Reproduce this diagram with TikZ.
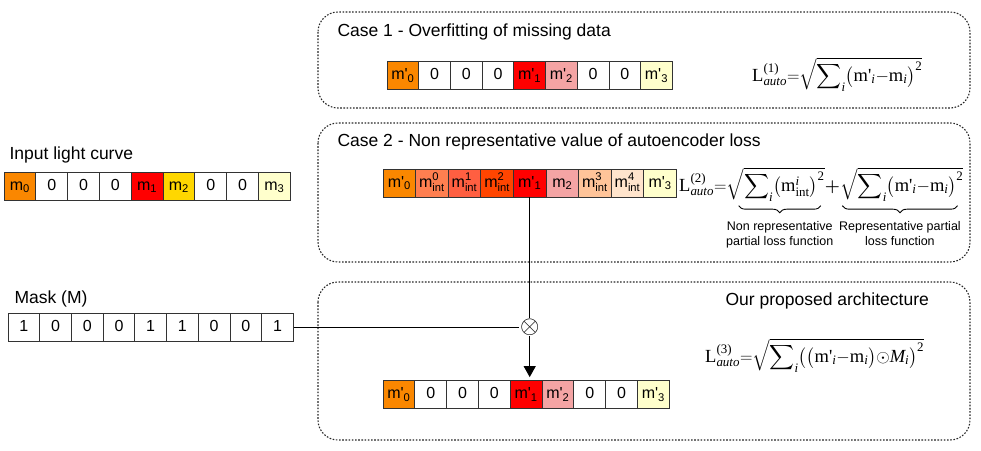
\documentclass[tikz,border=0pt]{standalone}
\usepackage{amsmath}
\usepackage{fontspec}
\setmainfont{Liberation Sans}
\newfontfamily\serifx{Liberation Serif}
\usetikzlibrary{arrows.meta, positioning, decorations.pathreplacing}

% cell colours
\definecolor{mOrange}{RGB}{250,135,0}
\definecolor{mRed}{RGB}{255,0,0}
\definecolor{mGold}{RGB}{255,215,0}
\definecolor{mCream}{RGB}{255,255,204}
\definecolor{mPink}{RGB}{244,164,164}
\definecolor{iCoral}{RGB}{255,127,80}
\definecolor{iTomato}{RGB}{255,95,65}
\definecolor{iOrRed}{RGB}{255,69,0}
\definecolor{iPeach}{RGB}{255,196,153}
\definecolor{iPale}{RGB}{255,228,204}

% cell labels
\newcommand{\msb}[1]{m$_{\text{#1}}$}
\newcommand{\mpr}[1]{m\textquotesingle$_{\text{#1}}$}
\newcommand{\mint}[1]{m$^{\text{#1}}_{\text{int}}$}
% formula pieces
\newcommand{\rmx}[1]{\text{\serifx #1}}
\newcommand{\itx}[1]{\text{\serifx\itshape #1}}
\newcommand{\lauto}[1]{\rmx{L}^{\rmx{(#1)}}_{\itx{auto}}}
\newcommand{\sumi}{\smash[b]{\displaystyle\sum\nolimits_{\itx{i}}}}

% one row of cells: name, left x, centre y, cell width, fill/label list
\newcommand{\cellrow}[5]{%
  \foreach \fillc/\lab [count=\i] in {#5} {
    \node[cell, fill=\fillc, minimum width=#4pt] (#1\i) at ({#2+(\i-0.5)*#4}, #3) {\lab};
  }}

\tikzset{
  cell/.style={draw=black!80, line width=0.8pt, minimum height=28pt, inner sep=0pt,
    text height=11.5pt, text depth=3.5pt, font=\fontsize{16}{18}\selectfont},
  casebox/.style={draw=black!85, line width=1.1pt, dash pattern=on 1.6pt off 1.6pt,
    rounded corners=20pt},
  title/.style={anchor=west, font=\fontsize{17.5}{20}\selectfont},
  loss/.style={font=\fontsize{18.5}{21}\selectfont, inner sep=0pt},
  note/.style={font=\fontsize{12.5}{14.5}\selectfont, align=center},
  link/.style={line width=1pt},
  lossbrace/.style={decorate, decoration={brace, mirror, amplitude=7pt}, line width=0.9pt},
}

\begin{document}
\begin{tikzpicture}[x=1pt, y=-1pt, >=Stealth]
  \useasboundingbox (0,0) rectangle (981,450);

  % case frames
  \draw[casebox] (318,12) rectangle (970,108);
  \draw[casebox] (318,123) rectangle (970,262);
  \draw[casebox] (318,282) rectangle (970,440);
  \node[title] (t1) at (334,32) {Case 1 - Overfitting of missing data};
  \node[title] (t2) at (334,142) {Case 2 - Non representative value of autoencoder loss};
  \node[title] (t3) at (722,301) {Our proposed architecture};

  % input light curve and mask
  \node[title] (tin) at (6,155) {Input light curve};
  \cellrow{in}{4}{186}{31.8}{mOrange/\msb{0}, white/0, white/0, white/0, mRed/\msb{1},
    mGold/\msb{2}, white/0, white/0, mCream/\msb{3}}
  \node[title] (tmk) at (11,299) {Mask (M)};
  \cellrow{mk}{8}{327}{31.7}{white/1, white/0, white/0, white/0, white/1,
    white/1, white/0, white/0, white/1}

  % case 1
  \cellrow{ca}{387}{75.5}{31.7}{mOrange/\mpr{0}, white/0, white/0, white/0, mRed/\mpr{1},
    mPink/\mpr{2}, white/0, white/0, mCream/\mpr{3}}
  \node[loss, anchor=base west] (l1) at (752,81)
    {$\lauto{1}{=}\sqrt{\sumi\bigl(\rmx{m\textquotesingle}_{\itx{i}}{-}\rmx{m}_{\itx{i}}\bigr)^{\rmx{2}}}$};

  % case 2
  \cellrow{cb}{383}{183}{32.6}{mOrange/\mpr{0}, iCoral/\mint{0}, iTomato/\mint{1}, iOrRed/\mint{2},
    mRed/\mpr{1}, mPink/\msb{2}, iPeach/\mint{3}, iPale/\mint{4}, mCream/\mpr{3}}
  \node[loss, anchor=base west] (l2a) at (679,191) {$\lauto{2}{=}$};
  \node[loss, anchor=base west] (l2b) at (l2a.base east)
    {$\sqrt{\sumi\bigl(\rmx{m}^{\itx{i}}_{\rmx{int}}\bigr)^{\rmx{2}}}$};
  \node[loss, anchor=base west] (l2c) at (l2b.base east) {$\boldsymbol{+}$};
  \node[loss, anchor=base west] (l2d) at (l2c.base east)
    {$\sqrt{\sumi\bigl(\rmx{m\textquotesingle}_{\itx{i}}{-}\rmx{m}_{\itx{i}}\bigr)^{\rmx{2}}}$};
  \draw[lossbrace] ([xshift=12pt, yshift=-6pt]l2b.south west) -- ([xshift=-4pt, yshift=-6pt]l2b.south east)
    node[midway, below=12pt, note] (n1) {Non representative\\partial loss function};
  \draw[lossbrace] ([xshift=2pt, yshift=-6pt]l2d.south west) -- ([xshift=-6pt, yshift=-6pt]l2d.south east)
    node[midway, below=12pt, note] (n2) {Representative partial\\loss function};

  % proposed architecture
  \cellrow{cc}{383}{394.5}{31.8}{mOrange/\mpr{0}, white/0, white/0, white/0, mRed/\mpr{1},
    mPink/\mpr{2}, white/0, white/0, mCream/\mpr{3}}
  \node[inner sep=0.5pt, font=\fontsize{24}{24}\selectfont] (ot) at (cb5 |- mk9) {$\otimes$};
  \node[loss, anchor=base west] (l3) at (705,362)
    {$\lauto{3}{=}\sqrt{\sumi\bigl(\bigl(\rmx{m\textquotesingle}_{\itx{i}}{-}\rmx{m}_{\itx{i}}\bigr){\odot}\itx{M}_{\itx{i}}\bigr)^{\rmx{2}}}$};

  % connectors
  \draw[link] (mk9.east) -- (ot.west);
  \draw[link] (cb5.south) -- (ot.north);
  \draw[link, -{Triangle[length=11pt, width=12pt]}, shorten >=3pt] (ot.south) -- (ot.south |- cc5.north);
\end{tikzpicture}
\end{document}
